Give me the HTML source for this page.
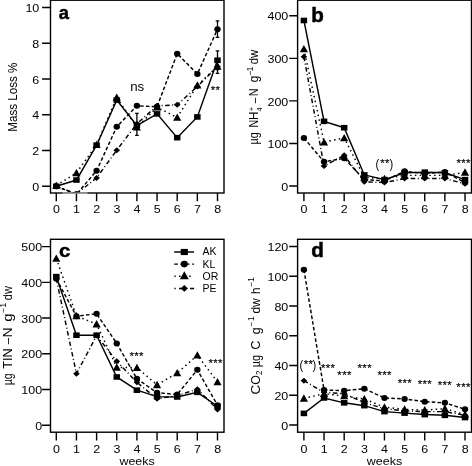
<!DOCTYPE html><html><head><meta charset="utf-8"><style>html,body{margin:0;padding:0;background:#fff;overflow:hidden}svg{display:block;filter:grayscale(1)}</style></head><body>
<svg width="472" height="466" viewBox="0 0 472 466" font-family='"Liberation Sans", sans-serif' font-size="12">
<rect width="472" height="466" fill="#fff"/>
<clipPath id="cla"><rect x="50.5" y="0.2" width="173.5" height="192.8"/></clipPath>
<g clip-path="url(#cla)" fill="none" stroke="#000" stroke-width="1.45">
<polyline points="56.30,186.30 76.45,180.04 96.60,145.18 116.75,100.12 136.90,125.51 157.05,113.89 177.20,137.67 197.35,116.93 217.50,60.25"/>
<polyline points="56.30,186.30 76.45,194.35 96.60,170.74 116.75,126.76 136.90,105.84 157.05,106.73 177.20,53.63 197.35,74.01 217.50,29.13" stroke-dasharray="3.6 2.2"/>
<polyline points="56.30,185.41 76.45,172.89 96.60,144.82 116.75,97.44 136.90,127.30 157.05,107.27 177.20,117.46 197.35,85.28 217.50,66.50" stroke-dasharray="1.5 3.3"/>
<polyline points="56.30,186.30 76.45,193.81 96.60,177.90 116.75,150.18 136.90,123.72 157.05,105.84 177.20,104.77 197.35,86.53 217.50,66.50" stroke-dasharray="4.5 2.6 1 2.6"/>
</g>
<g clip-path="url(#cla)" fill="#000">
<ellipse cx="56.30" cy="186.30" rx="3.20" ry="3.00"/>
<ellipse cx="76.45" cy="194.35" rx="3.20" ry="3.00"/>
<ellipse cx="96.60" cy="170.74" rx="3.20" ry="3.00"/>
<ellipse cx="116.75" cy="126.76" rx="3.20" ry="3.00"/>
<ellipse cx="136.90" cy="105.84" rx="3.20" ry="3.00"/>
<ellipse cx="157.05" cy="106.73" rx="3.20" ry="3.00"/>
<ellipse cx="177.20" cy="53.63" rx="3.20" ry="3.00"/>
<ellipse cx="197.35" cy="74.01" rx="3.20" ry="3.00"/>
<ellipse cx="217.50" cy="29.13" rx="3.20" ry="3.00"/>
<path d="M56.30 183.30L59.60 186.30L56.30 189.30L53.00 186.30Z"/>
<path d="M76.45 190.81L79.75 193.81L76.45 196.81L73.15 193.81Z"/>
<path d="M96.60 174.90L99.90 177.90L96.60 180.90L93.30 177.90Z"/>
<path d="M116.75 147.18L120.05 150.18L116.75 153.18L113.45 150.18Z"/>
<path d="M136.90 120.72L140.20 123.72L136.90 126.72L133.60 123.72Z"/>
<path d="M157.05 102.84L160.35 105.84L157.05 108.84L153.75 105.84Z"/>
<path d="M177.20 101.77L180.50 104.77L177.20 107.77L173.90 104.77Z"/>
<path d="M197.35 83.53L200.65 86.53L197.35 89.53L194.05 86.53Z"/>
<path d="M217.50 63.50L220.80 66.50L217.50 69.50L214.20 66.50Z"/>
<rect x="53.05" y="183.50" width="6.50" height="5.60"/>
<rect x="73.20" y="177.24" width="6.50" height="5.60"/>
<rect x="93.35" y="142.38" width="6.50" height="5.60"/>
<rect x="113.50" y="97.32" width="6.50" height="5.60"/>
<rect x="133.65" y="122.71" width="6.50" height="5.60"/>
<rect x="153.80" y="111.09" width="6.50" height="5.60"/>
<rect x="173.95" y="134.87" width="6.50" height="5.60"/>
<rect x="194.10" y="114.13" width="6.50" height="5.60"/>
<rect x="214.25" y="57.45" width="6.50" height="5.60"/>
<path d="M56.30 181.39L60.40 188.69L52.20 188.69Z"/>
<path d="M76.45 168.88L80.55 176.18L72.35 176.18Z"/>
<path d="M96.60 140.80L100.70 148.10L92.50 148.10Z"/>
<path d="M116.75 93.42L120.85 100.72L112.65 100.72Z"/>
<path d="M136.90 123.28L141.00 130.58L132.80 130.58Z"/>
<path d="M157.05 103.26L161.15 110.56L152.95 110.56Z"/>
<path d="M177.20 113.45L181.30 120.75L173.10 120.75Z"/>
<path d="M197.35 81.26L201.45 88.56L193.25 88.56Z"/>
<path d="M217.50 62.49L221.60 69.79L213.40 69.79Z"/>
</g>
<path d="M217.50 20.8V37.3M215.70 20.8H219.30M215.70 37.3H219.30M217.50 50.8V69.6M215.70 50.8H219.30M215.70 69.6H219.30M217.50 61.5V73.3M215.70 61.5H219.30M215.70 73.3H219.30M136.90 113.3V135.3M135.10 113.3H138.70M135.10 135.3H138.70" stroke="#000" stroke-width="1.3" fill="none"/>
<rect x="50.5" y="0.2" width="173.50" height="192.80" fill="none" stroke="#000" stroke-width="1.4"/>
<path d="M56.30 193.0V201.3M76.45 193.0V201.3M96.60 193.0V201.3M116.75 193.0V201.3M136.90 193.0V201.3M157.05 193.0V201.3M177.20 193.0V201.3M197.35 193.0V201.3M217.50 193.0V201.3M42.10 186.30H50.5M42.10 150.54H50.5M42.10 114.78H50.5M42.10 79.02H50.5M42.10 43.26H50.5M42.10 7.50H50.5" stroke="#000" stroke-width="1.4" fill="none"/>
<text transform="translate(56.40,213.40) scale(1.04,0.96)" text-anchor="middle">0</text>
<text transform="translate(76.55,213.40) scale(1.04,0.96)" text-anchor="middle">1</text>
<text transform="translate(96.70,213.40) scale(1.04,0.96)" text-anchor="middle">2</text>
<text transform="translate(116.85,213.40) scale(1.04,0.96)" text-anchor="middle">3</text>
<text transform="translate(137.00,213.40) scale(1.04,0.96)" text-anchor="middle">4</text>
<text transform="translate(157.15,213.40) scale(1.04,0.96)" text-anchor="middle">5</text>
<text transform="translate(177.30,213.40) scale(1.04,0.96)" text-anchor="middle">6</text>
<text transform="translate(197.45,213.40) scale(1.04,0.96)" text-anchor="middle">7</text>
<text transform="translate(217.60,213.40) scale(1.04,0.96)" text-anchor="middle">8</text>
<text transform="translate(39.30,190.90) scale(1.04,0.96)" text-anchor="end">0</text>
<text transform="translate(39.30,155.14) scale(1.04,0.96)" text-anchor="end">2</text>
<text transform="translate(39.30,119.38) scale(1.04,0.96)" text-anchor="end">4</text>
<text transform="translate(39.30,83.62) scale(1.04,0.96)" text-anchor="end">6</text>
<text transform="translate(39.30,47.86) scale(1.04,0.96)" text-anchor="end">8</text>
<text transform="translate(39.30,12.10) scale(1.04,0.96)" text-anchor="end">10</text>
<clipPath id="clb"><rect x="297.6" y="0.2" width="173.89999999999998" height="192.8"/></clipPath>
<g clip-path="url(#clb)" fill="none" stroke="#000" stroke-width="1.45">
<polyline points="303.90,20.48 324.04,121.32 344.18,127.71 364.32,174.94 384.46,179.62 404.60,172.81 424.74,172.17 444.88,172.81 465.02,179.62"/>
<polyline points="303.90,137.92 324.04,161.75 344.18,158.34 364.32,179.62 384.46,180.89 404.60,171.32 424.74,173.66 444.88,171.96 465.02,182.60" stroke-dasharray="3.6 2.2"/>
<polyline points="303.90,48.99 324.04,142.17 344.18,137.92 364.32,177.49 384.46,178.77 404.60,175.36 424.74,175.36 444.88,175.36 465.02,172.38" stroke-dasharray="1.5 3.3"/>
<polyline points="303.90,56.65 324.04,166.00 344.18,155.36 364.32,181.75 384.46,182.60 404.60,178.55 424.74,178.55 444.88,178.55 465.02,183.87" stroke-dasharray="4.5 2.6 1 2.6"/>
</g>
<g clip-path="url(#clb)" fill="#000">
<ellipse cx="303.90" cy="137.92" rx="3.20" ry="3.00"/>
<ellipse cx="324.04" cy="161.75" rx="3.20" ry="3.00"/>
<ellipse cx="344.18" cy="158.34" rx="3.20" ry="3.00"/>
<ellipse cx="364.32" cy="179.62" rx="3.20" ry="3.00"/>
<ellipse cx="384.46" cy="180.89" rx="3.20" ry="3.00"/>
<ellipse cx="404.60" cy="171.32" rx="3.20" ry="3.00"/>
<ellipse cx="424.74" cy="173.66" rx="3.20" ry="3.00"/>
<ellipse cx="444.88" cy="171.96" rx="3.20" ry="3.00"/>
<ellipse cx="465.02" cy="182.60" rx="3.20" ry="3.00"/>
<path d="M303.90 53.65L307.20 56.65L303.90 59.65L300.60 56.65Z"/>
<path d="M324.04 163.00L327.34 166.00L324.04 169.00L320.74 166.00Z"/>
<path d="M344.18 152.36L347.48 155.36L344.18 158.36L340.88 155.36Z"/>
<path d="M364.32 178.75L367.62 181.75L364.32 184.75L361.02 181.75Z"/>
<path d="M384.46 179.60L387.76 182.60L384.46 185.60L381.16 182.60Z"/>
<path d="M404.60 175.55L407.90 178.55L404.60 181.55L401.30 178.55Z"/>
<path d="M424.74 175.55L428.04 178.55L424.74 181.55L421.44 178.55Z"/>
<path d="M444.88 175.55L448.18 178.55L444.88 181.55L441.58 178.55Z"/>
<path d="M465.02 180.87L468.32 183.87L465.02 186.87L461.72 183.87Z"/>
<rect x="300.65" y="17.68" width="6.50" height="5.60"/>
<rect x="320.79" y="118.52" width="6.50" height="5.60"/>
<rect x="340.93" y="124.91" width="6.50" height="5.60"/>
<rect x="361.07" y="172.14" width="6.50" height="5.60"/>
<rect x="381.21" y="176.82" width="6.50" height="5.60"/>
<rect x="401.35" y="170.01" width="6.50" height="5.60"/>
<rect x="421.49" y="169.37" width="6.50" height="5.60"/>
<rect x="441.63" y="170.01" width="6.50" height="5.60"/>
<rect x="461.77" y="176.82" width="6.50" height="5.60"/>
<path d="M303.90 44.97L308.00 52.27L299.80 52.27Z"/>
<path d="M324.04 138.16L328.14 145.46L319.94 145.46Z"/>
<path d="M344.18 133.90L348.28 141.20L340.08 141.20Z"/>
<path d="M364.32 173.48L368.42 180.78L360.22 180.78Z"/>
<path d="M384.46 174.75L388.56 182.05L380.36 182.05Z"/>
<path d="M404.60 171.35L408.70 178.65L400.50 178.65Z"/>
<path d="M424.74 171.35L428.84 178.65L420.64 178.65Z"/>
<path d="M444.88 171.35L448.98 178.65L440.78 178.65Z"/>
<path d="M465.02 168.37L469.12 175.67L460.92 175.67Z"/>
</g>
<rect x="297.6" y="0.2" width="173.90" height="192.80" fill="none" stroke="#000" stroke-width="1.4"/>
<path d="M303.90 193.0V201.3M324.04 193.0V201.3M344.18 193.0V201.3M364.32 193.0V201.3M384.46 193.0V201.3M404.60 193.0V201.3M424.74 193.0V201.3M444.88 193.0V201.3M465.02 193.0V201.3M289.20 186.00H297.6M289.20 143.45H297.6M289.20 100.90H297.6M289.20 58.35H297.6M289.20 15.80H297.6" stroke="#000" stroke-width="1.4" fill="none"/>
<text transform="translate(304.00,213.40) scale(1.04,0.96)" text-anchor="middle">0</text>
<text transform="translate(324.14,213.40) scale(1.04,0.96)" text-anchor="middle">1</text>
<text transform="translate(344.28,213.40) scale(1.04,0.96)" text-anchor="middle">2</text>
<text transform="translate(364.42,213.40) scale(1.04,0.96)" text-anchor="middle">3</text>
<text transform="translate(384.56,213.40) scale(1.04,0.96)" text-anchor="middle">4</text>
<text transform="translate(404.70,213.40) scale(1.04,0.96)" text-anchor="middle">5</text>
<text transform="translate(424.84,213.40) scale(1.04,0.96)" text-anchor="middle">6</text>
<text transform="translate(444.98,213.40) scale(1.04,0.96)" text-anchor="middle">7</text>
<text transform="translate(465.12,213.40) scale(1.04,0.96)" text-anchor="middle">8</text>
<text transform="translate(288.30,190.60) scale(1.04,0.96)" text-anchor="end">0</text>
<text transform="translate(288.30,148.05) scale(1.04,0.96)" text-anchor="end">100</text>
<text transform="translate(288.30,105.50) scale(1.04,0.96)" text-anchor="end">200</text>
<text transform="translate(288.30,62.95) scale(1.04,0.96)" text-anchor="end">300</text>
<text transform="translate(288.30,20.40) scale(1.04,0.96)" text-anchor="end">400</text>
<clipPath id="clc"><rect x="50.5" y="239.3" width="173.5" height="192.89999999999998"/></clipPath>
<g clip-path="url(#clc)" fill="none" stroke="#000" stroke-width="1.45">
<polyline points="56.30,276.62 76.45,335.20 96.60,335.20 116.75,376.98 136.90,390.20 157.05,396.63 177.20,396.98 197.35,392.34 217.50,406.27"/>
<polyline points="56.30,278.76 76.45,316.27 96.60,313.77 116.75,343.41 136.90,378.77 157.05,392.70 177.20,394.48 197.35,369.84 217.50,405.20" stroke-dasharray="3.6 2.2"/>
<polyline points="56.30,258.41 76.45,315.91 96.60,324.12 116.75,367.34 136.90,367.70 157.05,384.84 177.20,373.05 197.35,355.20 217.50,381.98" stroke-dasharray="1.5 3.3"/>
<polyline points="56.30,278.76 76.45,373.77 96.60,335.55 116.75,361.27 136.90,382.34 157.05,398.77 177.20,395.56 197.35,389.13 217.50,409.48" stroke-dasharray="4.5 2.6 1 2.6"/>
</g>
<g clip-path="url(#clc)" fill="#000">
<ellipse cx="56.30" cy="278.76" rx="3.20" ry="3.00"/>
<ellipse cx="76.45" cy="316.27" rx="3.20" ry="3.00"/>
<ellipse cx="96.60" cy="313.77" rx="3.20" ry="3.00"/>
<ellipse cx="116.75" cy="343.41" rx="3.20" ry="3.00"/>
<ellipse cx="136.90" cy="378.77" rx="3.20" ry="3.00"/>
<ellipse cx="157.05" cy="392.70" rx="3.20" ry="3.00"/>
<ellipse cx="177.20" cy="394.48" rx="3.20" ry="3.00"/>
<ellipse cx="197.35" cy="369.84" rx="3.20" ry="3.00"/>
<ellipse cx="217.50" cy="405.20" rx="3.20" ry="3.00"/>
<path d="M56.30 275.76L59.60 278.76L56.30 281.76L53.00 278.76Z"/>
<path d="M76.45 370.77L79.75 373.77L76.45 376.77L73.15 373.77Z"/>
<path d="M96.60 332.55L99.90 335.55L96.60 338.55L93.30 335.55Z"/>
<path d="M116.75 358.27L120.05 361.27L116.75 364.27L113.45 361.27Z"/>
<path d="M136.90 379.34L140.20 382.34L136.90 385.34L133.60 382.34Z"/>
<path d="M157.05 395.77L160.35 398.77L157.05 401.77L153.75 398.77Z"/>
<path d="M177.20 392.56L180.50 395.56L177.20 398.56L173.90 395.56Z"/>
<path d="M197.35 386.13L200.65 389.13L197.35 392.13L194.05 389.13Z"/>
<path d="M217.50 406.48L220.80 409.48L217.50 412.48L214.20 409.48Z"/>
<rect x="53.05" y="273.82" width="6.50" height="5.60"/>
<rect x="73.20" y="332.40" width="6.50" height="5.60"/>
<rect x="93.35" y="332.40" width="6.50" height="5.60"/>
<rect x="113.50" y="374.18" width="6.50" height="5.60"/>
<rect x="133.65" y="387.40" width="6.50" height="5.60"/>
<rect x="153.80" y="393.83" width="6.50" height="5.60"/>
<rect x="173.95" y="394.18" width="6.50" height="5.60"/>
<rect x="194.10" y="389.54" width="6.50" height="5.60"/>
<rect x="214.25" y="403.47" width="6.50" height="5.60"/>
<path d="M56.30 254.39L60.40 261.69L52.20 261.69Z"/>
<path d="M76.45 311.89L80.55 319.19L72.35 319.19Z"/>
<path d="M96.60 320.11L100.70 327.41L92.50 327.41Z"/>
<path d="M116.75 363.33L120.85 370.63L112.65 370.63Z"/>
<path d="M136.90 363.68L141.00 370.98L132.80 370.98Z"/>
<path d="M157.05 380.83L161.15 388.13L152.95 388.13Z"/>
<path d="M177.20 369.04L181.30 376.34L173.10 376.34Z"/>
<path d="M197.35 351.18L201.45 358.48L193.25 358.48Z"/>
<path d="M217.50 377.97L221.60 385.27L213.40 385.27Z"/>
</g>
<rect x="50.5" y="239.3" width="173.50" height="192.90" fill="none" stroke="#000" stroke-width="1.4"/>
<path d="M56.30 432.2V440.5M76.45 432.2V440.5M96.60 432.2V440.5M116.75 432.2V440.5M136.90 432.2V440.5M157.05 432.2V440.5M177.20 432.2V440.5M197.35 432.2V440.5M217.50 432.2V440.5M42.10 425.20H50.5M42.10 389.48H50.5M42.10 353.77H50.5M42.10 318.05H50.5M42.10 282.34H50.5M42.10 246.62H50.5" stroke="#000" stroke-width="1.4" fill="none"/>
<text transform="translate(56.40,452.60) scale(1.04,0.96)" text-anchor="middle">0</text>
<text transform="translate(76.55,452.60) scale(1.04,0.96)" text-anchor="middle">1</text>
<text transform="translate(96.70,452.60) scale(1.04,0.96)" text-anchor="middle">2</text>
<text transform="translate(116.85,452.60) scale(1.04,0.96)" text-anchor="middle">3</text>
<text transform="translate(137.00,452.60) scale(1.04,0.96)" text-anchor="middle">4</text>
<text transform="translate(157.15,452.60) scale(1.04,0.96)" text-anchor="middle">5</text>
<text transform="translate(177.30,452.60) scale(1.04,0.96)" text-anchor="middle">6</text>
<text transform="translate(197.45,452.60) scale(1.04,0.96)" text-anchor="middle">7</text>
<text transform="translate(217.60,452.60) scale(1.04,0.96)" text-anchor="middle">8</text>
<text transform="translate(42.10,429.80) scale(1.04,0.96)" text-anchor="end">0</text>
<text transform="translate(42.10,394.08) scale(1.04,0.96)" text-anchor="end">100</text>
<text transform="translate(42.10,358.37) scale(1.04,0.96)" text-anchor="end">200</text>
<text transform="translate(42.10,322.65) scale(1.04,0.96)" text-anchor="end">300</text>
<text transform="translate(42.10,286.94) scale(1.04,0.96)" text-anchor="end">400</text>
<text transform="translate(42.10,251.22) scale(1.04,0.96)" text-anchor="end">500</text>
<clipPath id="cld"><rect x="297.6" y="239.3" width="173.89999999999998" height="192.89999999999998"/></clipPath>
<g clip-path="url(#cld)" fill="none" stroke="#000" stroke-width="1.45">
<polyline points="303.90,413.40 324.04,397.93 344.18,402.84 364.32,405.66 384.46,411.61 404.60,413.10 424.74,414.59 444.88,415.33 465.02,417.56"/>
<polyline points="303.90,269.70 324.04,390.04 344.18,390.64 364.32,388.70 384.46,397.93 404.60,398.97 424.74,401.65 444.88,402.84 465.02,409.23" stroke-dasharray="3.6 2.2"/>
<polyline points="303.90,398.37 324.04,393.76 344.18,395.99 364.32,398.97 384.46,407.15 404.60,409.38 424.74,410.12 444.88,408.64 465.02,414.59" stroke-dasharray="1.5 3.3"/>
<polyline points="303.90,380.67 324.04,392.27 344.18,393.76 364.32,402.69 384.46,408.64 404.60,410.87 424.74,411.61 444.88,411.61 465.02,415.33" stroke-dasharray="4.5 2.6 1 2.6"/>
</g>
<g clip-path="url(#cld)" fill="#000">
<ellipse cx="303.90" cy="269.70" rx="3.20" ry="3.00"/>
<ellipse cx="324.04" cy="390.04" rx="3.20" ry="3.00"/>
<ellipse cx="344.18" cy="390.64" rx="3.20" ry="3.00"/>
<ellipse cx="364.32" cy="388.70" rx="3.20" ry="3.00"/>
<ellipse cx="384.46" cy="397.93" rx="3.20" ry="3.00"/>
<ellipse cx="404.60" cy="398.97" rx="3.20" ry="3.00"/>
<ellipse cx="424.74" cy="401.65" rx="3.20" ry="3.00"/>
<ellipse cx="444.88" cy="402.84" rx="3.20" ry="3.00"/>
<ellipse cx="465.02" cy="409.23" rx="3.20" ry="3.00"/>
<path d="M303.90 377.67L307.20 380.67L303.90 383.67L300.60 380.67Z"/>
<path d="M324.04 389.27L327.34 392.27L324.04 395.27L320.74 392.27Z"/>
<path d="M344.18 390.76L347.48 393.76L344.18 396.76L340.88 393.76Z"/>
<path d="M364.32 399.69L367.62 402.69L364.32 405.69L361.02 402.69Z"/>
<path d="M384.46 405.64L387.76 408.64L384.46 411.64L381.16 408.64Z"/>
<path d="M404.60 407.87L407.90 410.87L404.60 413.87L401.30 410.87Z"/>
<path d="M424.74 408.61L428.04 411.61L424.74 414.61L421.44 411.61Z"/>
<path d="M444.88 408.61L448.18 411.61L444.88 414.61L441.58 411.61Z"/>
<path d="M465.02 412.33L468.32 415.33L465.02 418.33L461.72 415.33Z"/>
<rect x="300.65" y="410.60" width="6.50" height="5.60"/>
<rect x="320.79" y="395.13" width="6.50" height="5.60"/>
<rect x="340.93" y="400.04" width="6.50" height="5.60"/>
<rect x="361.07" y="402.86" width="6.50" height="5.60"/>
<rect x="381.21" y="408.81" width="6.50" height="5.60"/>
<rect x="401.35" y="410.30" width="6.50" height="5.60"/>
<rect x="421.49" y="411.79" width="6.50" height="5.60"/>
<rect x="441.63" y="412.53" width="6.50" height="5.60"/>
<rect x="461.77" y="414.76" width="6.50" height="5.60"/>
<path d="M303.90 394.36L308.00 401.66L299.80 401.66Z"/>
<path d="M324.04 389.75L328.14 397.05L319.94 397.05Z"/>
<path d="M344.18 391.98L348.28 399.28L340.08 399.28Z"/>
<path d="M364.32 394.95L368.42 402.25L360.22 402.25Z"/>
<path d="M384.46 403.13L388.56 410.44L380.36 410.44Z"/>
<path d="M404.60 405.37L408.70 412.67L400.50 412.67Z"/>
<path d="M424.74 406.11L428.84 413.41L420.64 413.41Z"/>
<path d="M444.88 404.62L448.98 411.92L440.78 411.92Z"/>
<path d="M465.02 410.57L469.12 417.87L460.92 417.87Z"/>
</g>
<rect x="297.6" y="239.3" width="173.90" height="192.90" fill="none" stroke="#000" stroke-width="1.4"/>
<path d="M303.90 432.2V440.5M324.04 432.2V440.5M344.18 432.2V440.5M364.32 432.2V440.5M384.46 432.2V440.5M404.60 432.2V440.5M424.74 432.2V440.5M444.88 432.2V440.5M465.02 432.2V440.5M289.20 425.00H297.6M289.20 395.25H297.6M289.20 365.50H297.6M289.20 335.75H297.6M289.20 306.00H297.6M289.20 276.25H297.6M289.20 246.50H297.6" stroke="#000" stroke-width="1.4" fill="none"/>
<text transform="translate(304.00,452.60) scale(1.04,0.96)" text-anchor="middle">0</text>
<text transform="translate(324.14,452.60) scale(1.04,0.96)" text-anchor="middle">1</text>
<text transform="translate(344.28,452.60) scale(1.04,0.96)" text-anchor="middle">2</text>
<text transform="translate(364.42,452.60) scale(1.04,0.96)" text-anchor="middle">3</text>
<text transform="translate(384.56,452.60) scale(1.04,0.96)" text-anchor="middle">4</text>
<text transform="translate(404.70,452.60) scale(1.04,0.96)" text-anchor="middle">5</text>
<text transform="translate(424.84,452.60) scale(1.04,0.96)" text-anchor="middle">6</text>
<text transform="translate(444.98,452.60) scale(1.04,0.96)" text-anchor="middle">7</text>
<text transform="translate(465.12,452.60) scale(1.04,0.96)" text-anchor="middle">8</text>
<text transform="translate(288.30,429.60) scale(1.04,0.96)" text-anchor="end">0</text>
<text transform="translate(288.30,399.85) scale(1.04,0.96)" text-anchor="end">20</text>
<text transform="translate(288.30,370.10) scale(1.04,0.96)" text-anchor="end">40</text>
<text transform="translate(288.30,340.35) scale(1.04,0.96)" text-anchor="end">60</text>
<text transform="translate(288.30,310.60) scale(1.04,0.96)" text-anchor="end">80</text>
<text transform="translate(288.30,280.85) scale(1.04,0.96)" text-anchor="end">100</text>
<text transform="translate(288.30,251.10) scale(1.04,0.96)" text-anchor="end">120</text>
<path d="M62.5 193.1H87.5" stroke="#fff" stroke-opacity="0.5" stroke-width="1.6"/>
<text transform="translate(58.85,18.90) scale(0.92,0.95)" font-size="20" font-weight="bold" stroke="#000" stroke-width="0.5">a</text>
<text transform="translate(311.30,22.30) scale(1.03,0.99)" font-size="20" font-weight="bold" stroke="#000" stroke-width="0.5">b</text>
<text transform="translate(58.90,256.80) scale(1.02,0.96)" font-size="20" font-weight="bold" stroke="#000" stroke-width="0.5">c</text>
<text transform="translate(311.30,256.80) scale(1.03,0.965)" font-size="20" font-weight="bold" stroke="#000" stroke-width="0.5">d</text>
<text transform="translate(137.05,465.20) scale(1.04,0.96)" text-anchor="middle">weeks</text>
<text transform="translate(384.45,465.20) scale(1.04,0.96)" text-anchor="middle">weeks</text>
<text transform="translate(17.20,131.72) scale(1.04,0.9671428571428572) rotate(-90)">Mass Loss %</text>
<text transform="translate(258.30,144.47) scale(1.04,0.9000000000000009) rotate(-90)">µg</text>
<text transform="translate(258.30,127.43) scale(1.04,0.8805970149253718) rotate(-90)">N</text>
<text transform="translate(258.30,120.02) scale(1.04,0.9701492537313433) rotate(-90)">H</text>
<text transform="translate(259.10,103.35) scale(1.04,0.8358208955223871) rotate(-90)">–</text>
<text transform="translate(258.30,96.26) scale(1.04,0.9104477611940289) rotate(-90)">N</text>
<text transform="translate(258.30,82.23) scale(1.04,0.9629629629629635) rotate(-90)">g</text>
<text transform="translate(252.50,75.43) scale(1.04,0.96) rotate(-90)" font-size="8.5">−</text>
<text transform="translate(252.50,71.23) scale(1.04,0.96) rotate(-90)" font-size="8.5">1</text>
<text transform="translate(258.30,64.22) scale(1.04,0.9395973154362416) rotate(-90)">dw</text>
<text transform="translate(253.60,110.91) scale(1.04,0.96) rotate(-90)" font-size="7.5">+</text>
<text transform="translate(261.50,111.52) scale(1.04,0.96) rotate(-90)" font-size="7.6">4</text>
<text transform="translate(11.80,385.14) scale(1.04,0.8666666666666648) rotate(-90)">µg</text>
<text transform="translate(11.80,368.87) scale(1.04,1.0662983425414372) rotate(-90)">TIN</text>
<text transform="translate(12.30,344.15) scale(1.04,0.9253731343283564) rotate(-90)">–</text>
<text transform="translate(11.80,337.61) scale(1.04,1.1641791044776135) rotate(-90)">N</text>
<text transform="translate(11.80,321.68) scale(1.04,1.25) rotate(-90)">g</text>
<text transform="translate(5.90,313.03) scale(1.04,0.96) rotate(-90)" font-size="8.5">−</text>
<text transform="translate(5.90,307.43) scale(1.04,0.96) rotate(-90)" font-size="8.5">1</text>
<text transform="translate(11.80,300.21) scale(1.04,0.9127516778523505) rotate(-90)">dw</text>
<text transform="translate(259.60,394.52) scale(1.04,1.118421052631579) rotate(-90)">C</text>
<text transform="translate(259.60,384.77) scale(1.04,1.0365853658536583) rotate(-90)">O</text>
<text transform="translate(261.70,375.03) scale(1.04,0.96) rotate(-90)" font-size="8.5">2</text>
<text transform="translate(259.60,367.27) scale(1.04,0.9000000000000009) rotate(-90)">µg</text>
<text transform="translate(259.60,349.69) scale(1.04,1.0657894736842135) rotate(-90)">C</text>
<text transform="translate(259.60,334.16) scale(1.04,1.0185185185185184) rotate(-90)">g</text>
<text transform="translate(253.70,326.73) scale(1.04,0.96) rotate(-90)" font-size="8.5">−</text>
<text transform="translate(253.70,321.03) scale(1.04,0.96) rotate(-90)" font-size="8.5">1</text>
<text transform="translate(259.60,313.55) scale(1.04,1.0000000000000022) rotate(-90)">dw</text>
<text transform="translate(259.60,294.02) scale(1.04,0.9607843137254857) rotate(-90)">h</text>
<text transform="translate(253.70,286.93) scale(1.04,0.96) rotate(-90)" font-size="8.5">−</text>
<text transform="translate(253.70,281.63) scale(1.04,0.96) rotate(-90)" font-size="8.5">1</text>
<path d="M174.2 252.0H194.1" stroke="#000" stroke-width="1.45" fill="none"/>
<g fill="#000"><rect x="180.73" y="248.92" width="7.15" height="6.16"/></g>
<text transform="translate(202.50,255.40) scale(1.0,1.0)" font-size="10.5">AK</text>
<path d="M174.2 264.1H178.0M180.3 264.1H189.6M192.2 264.1H194.1" stroke="#000" stroke-width="1.45" fill="none"/>
<g fill="#000"><ellipse cx="184.30" cy="264.10" rx="3.52" ry="3.30"/></g>
<text transform="translate(202.50,267.50) scale(1.0,1.0)" font-size="10.5">KL</text>
<path d="M174.4 276.2H175.7M179.0 276.2H180.5M189.2 276.2H190.7" stroke="#000" stroke-width="1.45" fill="none"/>
<g fill="#000"><path d="M184.30 271.18L188.81 279.21L179.79 279.21Z"/></g>
<text transform="translate(202.50,279.60) scale(1.0,1.0)" font-size="10.5">OR</text>
<path d="M174.4 288.4H175.7M179.0 288.4H182.0M190.0 288.4H194.1" stroke="#000" stroke-width="1.45" fill="none"/>
<g fill="#000"><path d="M184.30 285.10L187.93 288.40L184.30 291.70L180.67 288.40Z"/></g>
<text transform="translate(202.50,291.80) scale(1.0,1.0)" font-size="10.5">PE</text>
<text transform="translate(130.20,90.90) scale(1.04,0.96)" font-size="12.8">ns</text>
<text transform="translate(210.77,93.94) scale(1.04,0.96)" font-size="11" letter-spacing="0.34" stroke="#000" stroke-width="0.15">**</text>
<text transform="translate(375.60,168.20) scale(0.8,0.87)" font-size="14">(</text>
<text transform="translate(389.40,168.20) scale(0.8,0.87)" font-size="14">)</text>
<text transform="translate(380.17,167.34) scale(1.04,0.96)" font-size="11" letter-spacing="0.34" stroke="#000" stroke-width="0.15">**</text>
<text transform="translate(456.47,166.64) scale(1.04,0.96)" font-size="11" letter-spacing="0.34" stroke="#000" stroke-width="0.15">***</text>
<text transform="translate(129.47,359.64) scale(1.04,0.96)" font-size="11" letter-spacing="0.34" stroke="#000" stroke-width="0.15">***</text>
<text transform="translate(208.47,367.14) scale(1.04,0.96)" font-size="11" letter-spacing="0.34" stroke="#000" stroke-width="0.15">***</text>
<text transform="translate(299.40,369.10) scale(0.8,0.87)" font-size="14">(</text>
<text transform="translate(312.40,369.10) scale(0.8,0.87)" font-size="14">)</text>
<text transform="translate(303.67,368.14) scale(1.04,0.96)" font-size="11" letter-spacing="0.34" stroke="#000" stroke-width="0.15">**</text>
<text transform="translate(320.97,371.74) scale(1.04,0.96)" font-size="11" letter-spacing="0.34" stroke="#000" stroke-width="0.15">***</text>
<text transform="translate(337.37,378.84) scale(1.04,0.96)" font-size="11" letter-spacing="0.34" stroke="#000" stroke-width="0.15">***</text>
<text transform="translate(357.57,371.84) scale(1.04,0.96)" font-size="11" letter-spacing="0.34" stroke="#000" stroke-width="0.15">***</text>
<text transform="translate(377.47,379.04) scale(1.04,0.96)" font-size="11" letter-spacing="0.34" stroke="#000" stroke-width="0.15">***</text>
<text transform="translate(397.67,386.74) scale(1.04,0.96)" font-size="11" letter-spacing="0.34" stroke="#000" stroke-width="0.15">***</text>
<text transform="translate(417.77,387.64) scale(1.04,0.96)" font-size="11" letter-spacing="0.34" stroke="#000" stroke-width="0.15">***</text>
<text transform="translate(437.77,389.44) scale(1.04,0.96)" font-size="11" letter-spacing="0.34" stroke="#000" stroke-width="0.15">***</text>
<text transform="translate(456.37,391.04) scale(1.04,0.96)" font-size="11" letter-spacing="0.34" stroke="#000" stroke-width="0.15">***</text>
</svg></body></html>
